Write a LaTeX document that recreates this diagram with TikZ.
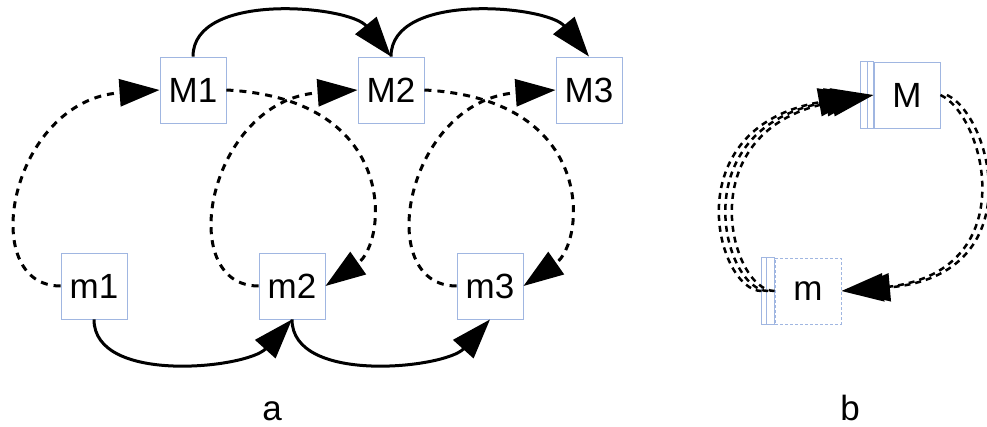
\documentclass[tikz,border=0pt]{standalone}
\usepackage{fontspec}
\setmainfont{Liberation Sans}
\usetikzlibrary{arrows.meta,calc}
\definecolor{boxblue}{RGB}{160,182,225}
\begin{document}
\begin{tikzpicture}[x=1pt,y=1pt,
  box/.style={draw=boxblue,line width=0.9pt,minimum width=66pt,minimum height=66pt,inner sep=0pt,font=\fontsize{35}{42}\selectfont},
  lbl/.style={anchor=base,inner sep=0pt,font=\fontsize{35}{42}\selectfont},
  stack/.style={draw=boxblue,line width=0.9pt},
  solidedge/.style={line width=3pt,-{Triangle[length=40pt,width=27pt]}},
  dashedge/.style={line width=3pt,dash pattern=on 7pt off 6pt,-{Triangle[length=40pt,width=27pt]}},
  multiedge/.style={line width=2.5pt,dash pattern=on 6pt off 5pt,-{Triangle[length=42pt,width=28pt]}},
]
\useasboundingbox (0,0) rectangle (987,426);
% part a
\node[box] (M1) at (193,336) {M1};
\node[box] (M2) at (391,336) {M2};
\node[box] (M3) at (589,336) {M3};
\node[box] (m1) at (94,140) {m1};
\node[box] (m2) at (292,140) {m2};
\node[box] (m3) at (490,140) {m3};
% part b
\node[box] (M) at (907,331) {M};
\draw[stack] ($(M.north west)+(-13,0)$) rectangle (M.south west);
\draw[stack] ($(M.north west)+(-6.5,0)$) -- ($(M.south west)+(-6.5,0)$);
\node[box,dash pattern=on 3pt off 2pt] (m) at (808,135) {m};
\draw[stack] ($(m.north west)+(-13,0)$) rectangle (m.south west);
\draw[stack] ($(m.north west)+(-8,0)$) -- ($(m.south west)+(-8,0)$);
% solid edges
\draw[solidedge] (M1.north) to[out=90,in=129,looseness=0.85] (M2.north);
\draw[solidedge] (M2.north) to[out=90,in=129,looseness=0.85] (M3.north);
\draw[solidedge] (m1.south) to[out=-90,in=228,looseness=0.85] (m2.south);
\draw[solidedge] (m2.south) to[out=-90,in=228,looseness=0.85] (m3.south);
% dashed loops
\draw[dashedge] (m1.west) to[out=180,in=184,out distance=85pt,in distance=150pt] (M1.west);
\draw[dashedge] (m2.west) to[out=180,in=184,out distance=85pt,in distance=150pt] (M2.west);
\draw[dashedge] (m3.west) to[out=180,in=184,out distance=85pt,in distance=150pt] (M3.west);
\draw[dashedge] (M1.east) to[out=-3,in=35,out distance=175pt,in distance=75pt] (m2.east);
\draw[dashedge] (M2.east) to[out=-3,in=35,out distance=175pt,in distance=75pt] (m3.east);
% multi edges in b
\foreach \s in {0,-6.5,-13}
  \draw[multiedge,transform canvas={xshift=\s pt}] (m.west) to[out=180,in=190,out distance=45pt,in distance=190pt] (M.west);
\foreach \s in {0,6.5}
  \draw[multiedge,transform canvas={xshift=\s pt}] (M.east) to[out=-25,in=5,out distance=50pt,in distance=185pt] (m.east);
% labels
\node[lbl] (la) at (272,6) {a};
\node[lbl] (lb) at (850,6) {b};
\end{tikzpicture}
\end{document}
